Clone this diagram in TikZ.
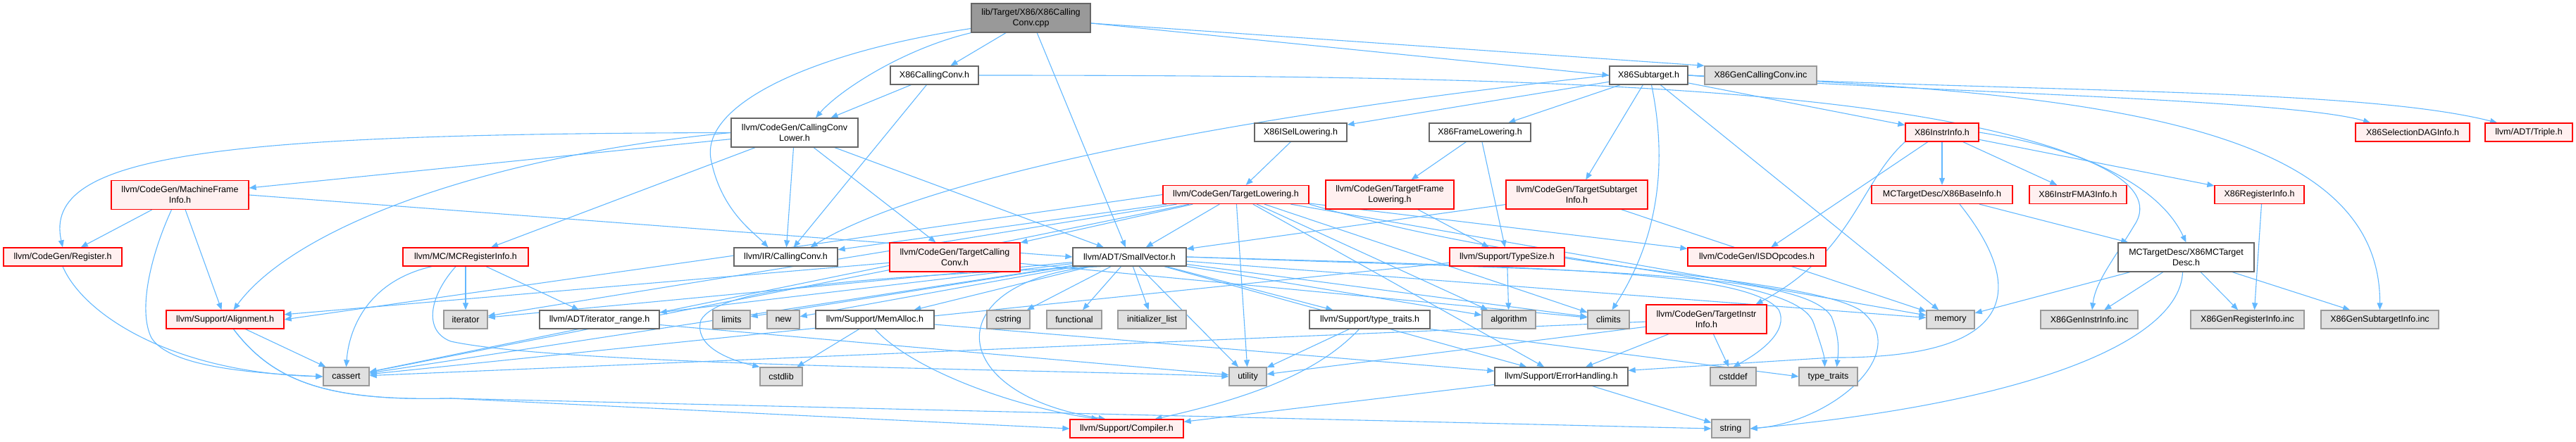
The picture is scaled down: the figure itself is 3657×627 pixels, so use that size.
\documentclass[tikz,border=0pt]{standalone}
\usepackage{fontspec}
\setmainfont{Liberation Sans}
\usetikzlibrary{arrows.meta}
\pgfdeclarelayer{edges}
\pgfsetlayers{edges,main}
\definecolor{edgeblue}{HTML}{63B8FF}
\definecolor{wborder}{HTML}{666666}
\definecolor{gborder}{HTML}{999999}
\definecolor{gfill}{HTML}{E0E0E0}
\definecolor{redfill}{HTML}{FFF0F0}
\definecolor{rborder}{HTML}{FF0000}
\definecolor{rootfill}{HTML}{999999}
\tikzset{
  nbase/.style={rectangle, line width=1.3pt, inner sep=1pt, align=center, minimum height=26pt, font=\fontsize{12.5}{15}\selectfont},
  wbox/.style={nbase, draw=wborder, fill=white},
  rbox/.style={nbase, draw=rborder, fill=redfill},
  gbox/.style={nbase, draw=gborder, fill=gfill},
  rootbox/.style={nbase, draw=wborder, fill=rootfill},
  tall/.style={minimum height=41pt},
  dep/.style={draw=edgeblue, line width=1.1pt, -{Triangle[length=10pt,width=8pt]}}
}
\begin{document}
\begin{tikzpicture}[x=1pt,y=-1pt]
\useasboundingbox (0,0) rectangle (3657,627);
% nodes
\node[rootbox,tall,minimum width=169pt] (root) at (1463.5,25.5) {lib/Target/X86/X86Calling\\Conv.cpp};
\node[wbox,minimum width=125pt] (cch) at (1326.5,107) {X86CallingConv.h};
\node[wbox,minimum width=111pt] (sub) at (2340.5,107) {X86Subtarget.h};
\node[gbox,minimum width=159pt] (gcc) at (2499.5,107) {X86GenCallingConv.inc};
\node[wbox,tall,minimum width=180pt] (ccl) at (1128,188.5) {llvm/CodeGen/CallingConv\\Lower.h};
\node[wbox,minimum width=131pt] (isel) at (1846.5,188) {X86ISelLowering.h};
\node[wbox,minimum width=144pt] (xfl) at (2101,188) {X86FrameLowering.h};
\node[rbox,minimum width=104pt] (xii) at (2757,188) {X86InstrInfo.h};
\node[rbox,minimum width=162pt] (sdag) at (3425,188) {X86SelectionDAGInfo.h};
\node[rbox,minimum width=124pt] (triple) at (3590,188) {llvm/ADT/Triple.h};
\node[rbox,tall,minimum width=195pt] (mfi) at (255.5,277) {llvm/CodeGen/MachineFrame\\Info.h};
\node[rbox,minimum width=207pt] (tl) at (1754.5,276.5) {llvm/CodeGen/TargetLowering.h};
\node[rbox,tall,minimum width=182pt] (tfl) at (1973,276.5) {llvm/CodeGen/TargetFrame\\Lowering.h};
\node[rbox,tall,minimum width=201pt] (tsi) at (2238.5,276.5) {llvm/CodeGen/TargetSubtarget\\Info.h};
\node[rbox,minimum width=200pt] (xbase) at (2757,276.5) {MCTargetDesc/X86BaseInfo.h};
\node[rbox,minimum width=138pt] (fma) at (2950,276.5) {X86InstrFMA3Info.h};
\node[rbox,minimum width=127pt] (xri) at (3207.5,276.5) {X86RegisterInfo.h};
\node[rbox,minimum width=168pt] (reg) at (89,365) {llvm/CodeGen/Register.h};
\node[rbox,minimum width=178pt] (mcri) at (661,365) {llvm/MC/MCRegisterInfo.h};
\node[wbox,minimum width=147pt] (ircc) at (1115.5,365) {llvm/IR/CallingConv.h};
\node[rbox,tall,minimum width=185pt] (tcc) at (1355.5,365.5) {llvm/CodeGen/TargetCalling\\Conv.h};
\node[wbox,minimum width=161pt] (sv) at (1603.5,365) {llvm/ADT/SmallVector.h};
\node[rbox,minimum width=163pt] (ts) at (2139.5,365) {llvm/Support/TypeSize.h};
\node[rbox,minimum width=196pt] (isd) at (2494,365) {llvm/CodeGen/ISDOpcodes.h};
\node[wbox,tall,minimum width=193pt] (mctd) at (3103.5,365.5) {MCTargetDesc/X86MCTarget\\Desc.h};
\node[rbox,minimum width=167pt] (align) at (319.5,454) {llvm/Support/Alignment.h};
\node[gbox,minimum width=62pt] (iter) at (661,454) {iterator};
\node[wbox,minimum width=170pt] (itr) at (851,454) {llvm/ADT/iterator\_range.h};
\node[gbox,minimum width=53pt] (limits) at (1038.5,454) {limits};
\node[gbox,minimum width=46pt] (new) at (1112,454) {new};
\node[wbox,minimum width=168pt] (mem) at (1242,454) {llvm/Support/MemAlloc.h};
\node[gbox,minimum width=61pt] (cstring) at (1431.5,454) {cstring};
\node[gbox,minimum width=78pt] (functional) at (1525,454) {functional};
\node[gbox,minimum width=97pt] (initl) at (1635.5,454) {initializer\_list};
\node[wbox,minimum width=171pt] (stt) at (1944.5,454) {llvm/Support/type\_traits.h};
\node[gbox,minimum width=76pt] (algo) at (2142,454) {algorithm};
\node[gbox,minimum width=59pt] (climits) at (2283.5,454) {climits};
\node[rbox,tall,minimum width=171pt] (tii) at (2422.5,453.5) {llvm/CodeGen/TargetInstr\\Info.h};
\node[gbox,minimum width=68pt] (memory) at (2769,454) {memory};
\node[gbox,minimum width=138pt] (ginstr) at (2966,454) {X86GenInstrInfo.inc};
\node[gbox,minimum width=161pt] (greg) at (3190.5,454) {X86GenRegisterInfo.inc};
\node[gbox,minimum width=167pt] (gsub) at (3378.5,454) {X86GenSubtargetInfo.inc};
\node[gbox,minimum width=65pt] (cassert) at (491.5,535) {cassert};
\node[gbox,minimum width=60pt] (cstdlib) at (1109,535) {cstdlib};
\node[gbox,minimum width=53pt] (utility) at (1771.5,535) {utility};
\node[wbox,minimum width=189pt] (eh) at (2216.5,535) {llvm/Support/ErrorHandling.h};
\node[gbox,minimum width=65pt] (cstddef) at (2460.5,535) {cstddef};
\node[gbox,minimum width=83pt] (tt) at (2595.5,535) {type\_traits};
\node[rbox,minimum width=161pt] (compiler) at (1599.5,609) {llvm/Support/Compiler.h};
\node[gbox,minimum width=54pt] (string) at (2457,609) {string};
% edges
\begin{pgfonlayer}{edges}
\draw[dep] (root) -- (cch);
\draw[dep] (root.south west) .. controls (1280,70) and (1190,130) .. ([xshift=30pt]ccl.north);
\draw[dep] ([yshift=-15pt]root.west) .. controls (1150,75) and (990,150) .. (1010,230) .. controls (1025,300) and (1070,330) .. ([xshift=-25pt]ircc.north);
\draw[dep] (root) -- (sv);
\draw[dep] (root.-5) -- (sub.west);
\draw[dep] (root.-5) -- (gcc.north west);
\draw[dep] (cch) -- (ccl);
\draw[dep] (cch) -- (ircc);
\draw[dep] (cch.east) .. controls (2300,107) and (3000,125) .. (mctd.north);
\draw[dep] (sub) -- (isel);
\draw[dep] (sub) -- (xfl);
\draw[dep] (sub) -- (tsi);
\draw[dep] ([xshift=4pt]sub.south) .. controls (2365,220) and (2360,330) .. ([xshift=5pt]climits.north);
\draw[dep] (sub) -- (memory);
\draw[dep] (sub) -- (xii);
\draw[dep] (sub.east) .. controls (2700,130) and (3250,140) .. ([xshift=-60pt]sdag.north);
\draw[dep] (sub.east) .. controls (2900,132) and (3350,125) .. ([xshift=-45pt]triple.north);
\draw[dep] (sub.east) .. controls (2950,130) and (3380,170) .. (gsub.north);
\draw[dep] (sub.west) .. controls (1700,170) and (1300,260) .. ([xshift=35pt]ircc.north);
\draw[dep] (ccl) -- (mfi);
\draw[dep] (ccl.west) .. controls (300,190) and (60,220) .. (reg.north);
\draw[dep] (ccl.west) .. controls (700,220) and (420,320) .. ([xshift=12pt]align.north);
\draw[dep] (ccl) -- (mcri);
\draw[dep] (ccl) -- (ircc);
\draw[dep] (ccl) -- (sv);
\draw[dep] (ccl) -- (tcc);
\draw[dep] (isel) -- (tl);
\draw[dep] (xfl) -- (tfl);
\draw[dep] (xfl) -- (ts);
\draw[dep] (tfl) -- (ts);
\draw[dep] (tsi) -- (sv);
\draw[dep] (tsi) -- (memory);
\draw[dep] (xii) -- (isd);
\draw[dep] (xii.south west) .. controls (2640,260) and (2630,360) .. ([xshift=70pt]tii.north);
\draw[dep] (xii) -- (xbase);
\draw[dep] (xii) -- (fma);
\draw[dep] (xii) -- (xri);
\draw[dep] (xii.east) .. controls (2950,210) and (3070,260) .. (3030,320) .. controls (3000,370) and (2975,400) .. ([xshift=4pt]ginstr.north);
\draw[dep] (mfi.east) -- (sv.west);
\draw[dep] (mfi) -- (reg);
\draw[dep] (mfi) -- (align);
\draw[dep] ([xshift=-12pt]mfi.south) .. controls (215,360) and (195,440) .. (215,480) .. controls (240,520) and (350,530) .. (cassert.west);
\draw[dep] (tl.west) -- (align.east);
\draw[dep] (tl) -- (ircc);
\draw[dep] (tl) -- (tcc);
\draw[dep] (tl) -- (sv);
\draw[dep] (tl) -- (cassert);
\draw[dep] (tl) -- (iter);
\draw[dep] (tl) -- (utility);
\draw[dep] (tl) -- (algo);
\draw[dep] (tl) -- (climits);
\draw[dep] (tl) -- (eh);
\draw[dep] (tl) -- (memory);
\draw[dep] (tl) -- (isd);
\draw[dep] (tl.south east) .. controls (2200,390) and (2550,390) .. (2640,440) .. controls (2720,500) and (2600,600) .. (string.east);
\draw[dep] ([xshift=-50pt]sv.south) .. controls (1330,400) and (1340,560) .. ([xshift=-30pt]compiler.north);
\draw[dep] (sv) -- (stt);
\draw[dep] (sv) -- (algo);
\draw[dep] (sv) -- (cassert);
\draw[dep] (sv.east) .. controls (2200,380) and (2480,385) .. (2525,440) .. controls (2540,470) and (2500,500) .. (cstddef.north);
\draw[dep] ([xshift=-40pt]sv.south) .. controls (1200,395) and (1020,410) .. (995,455) .. controls (985,490) and (1030,510) .. (cstdlib.north west);
\draw[dep] (sv) -- (cstring);
\draw[dep] (sv) -- (functional);
\draw[dep] (sv) -- (initl);
\draw[dep] (sv) -- (iter);
\draw[dep] (sv) -- (limits);
\draw[dep] (sv) -- (memory);
\draw[dep] (sv) -- (new);
\draw[dep] (sv.east) .. controls (2250,385) and (2560,385) .. (2600,450) .. controls (2612,480) and (2610,500) .. ([xshift=12pt]tt.north);
\draw[dep] (sv) -- (utility);
\draw[dep] (sv) -- (itr);
\draw[dep] (sv) -- (eh);
\draw[dep] (sv) -- (mem);
\draw[dep] (sv) -- (climits);
\draw[dep] (tcc) -- (align);
\draw[dep] (tcc) -- (cassert);
\draw[dep] (tcc) -- (climits);
\draw[dep] (mcri) -- (iter);
\draw[dep] (mcri) -- (itr);
\draw[dep] ([xshift=-48pt]mcri.south) .. controls (520,400) and (495,470) .. (cassert.north);
\draw[dep] ([xshift=-14pt]mcri.south) .. controls (610,420) and (600,470) .. (640,485) .. controls (800,520) and (1500,525) .. (utility.west);
\draw[dep] (reg.south) .. controls (120,450) and (250,530) .. (cassert.west);
\draw[dep] (align) -- (cassert);
\draw[dep] ([xshift=12pt]align.south) .. controls (390,545) and (470,570) .. (640,566) -- (compiler.west);
\draw[dep] ([xshift=12pt]align.south) .. controls (390,545) and (470,570) .. (640,566) -- (string.west);
\draw[dep] (ts) -- (algo);
\draw[dep] (ts) -- (cassert);
\draw[dep] (ts.east) .. controls (2400,395) and (2560,410) .. (2575,460) .. controls (2585,490) and (2590,505) .. ([xshift=-5pt]tt.north);
\draw[dep] (stt) -- (utility);
\draw[dep] ([xshift=-15pt]stt.south) .. controls (1880,520) and (1800,560) .. ([xshift=40pt]compiler.north);
\draw[dep] (stt.south east) -- (tt.west);
\draw[dep] (mem) -- (cstdlib);
\draw[dep] (mem.south) .. controls (1300,530) and (1450,580) .. ([xshift=-40pt]compiler.north);
\draw[dep] (mem) -- (eh);
\draw[dep] (eh) -- (compiler);
\draw[dep] (eh) -- (string);
\draw[dep] (tii) -- (eh);
\draw[dep] (tii) -- (cassert);
\draw[dep] (tii) -- (utility);
\draw[dep] (tii) -- (cstddef);
\draw[dep] (xbase) -- (mctd);
\draw[dep] ([xshift=25pt]xbase.south) .. controls (2870,400) and (2880,510) .. (2600,508) -- ([yshift=-5pt]eh.north east);
\draw[dep] ([xshift=3pt]xri.south) -- ([xshift=10pt]greg.north);
\draw[dep] (mctd) -- (memory);
\draw[dep] (mctd) -- (ginstr);
\draw[dep] (mctd) -- (greg);
\draw[dep] (mctd) -- (gsub);
\draw[dep] ([xshift=-5pt]mctd.south) .. controls (3095,480) and (2900,570) .. (string.east);
\draw[dep] (itr) -- (utility);
\end{pgfonlayer}
\end{tikzpicture}
\end{document}
